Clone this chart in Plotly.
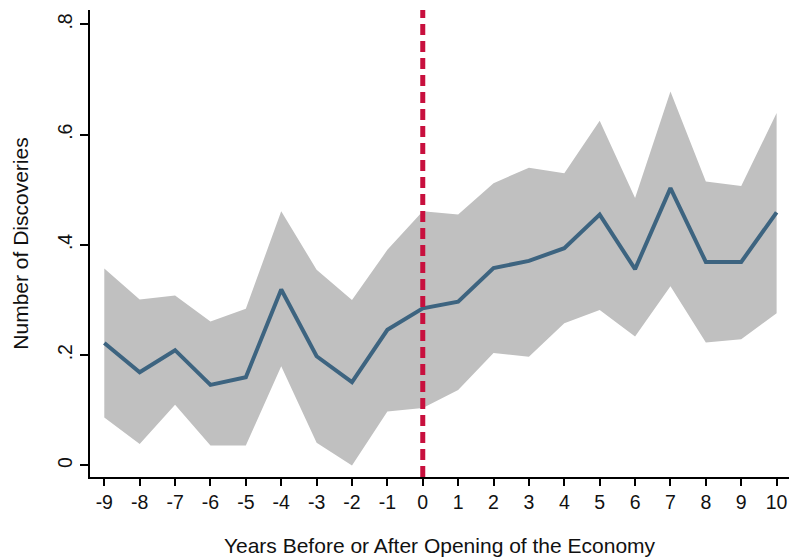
import plotly.graph_objects as go

years = [-9, -8, -7, -6, -5, -4, -3, -2, -1, 0, 1, 2, 3, 4, 5, 6, 7, 8, 9, 10]
year_labels = ["-9", "-8", "-7", "-6", "-5", "-4", "-3", "-2", "-1", "0",
               "1", "2", "3", "4", "5", "6", "7", "8", "9", "10"]
mean_disc = [0.222, 0.169, 0.209, 0.146, 0.160, 0.319, 0.198, 0.151, 0.246, 0.285,
             0.297, 0.358, 0.371, 0.394, 0.455, 0.356, 0.503, 0.369, 0.369, 0.459]
upper_ci = [0.357, 0.301, 0.308, 0.261, 0.284, 0.461, 0.355, 0.300, 0.391, 0.461,
            0.455, 0.512, 0.540, 0.530, 0.625, 0.485, 0.678, 0.515, 0.507, 0.639]
lower_ci = [0.087, 0.039, 0.110, 0.036, 0.036, 0.180, 0.041, 0.000, 0.098, 0.104,
            0.137, 0.204, 0.197, 0.258, 0.282, 0.234, 0.325, 0.223, 0.229, 0.276]
opening_year = 0
y_ticks = [0, 0.2, 0.4, 0.6, 0.8]
y_tick_labels = ["0", ".2", ".4", ".6", ".8"]

FONT = "Liberation Sans, Arial, sans-serif"

fig = go.Figure()
fig.add_trace(go.Scatter(x=years, y=upper_ci, mode="lines", line=dict(width=0, color="#c0c0c0"),
                         showlegend=False, hoverinfo="skip"))
fig.add_trace(go.Scatter(x=years, y=lower_ci, mode="lines", line=dict(width=0, color="#c0c0c0"),
                         fill="tonexty", fillcolor="#c0c0c0", showlegend=False, hoverinfo="skip"))
fig.add_trace(go.Scatter(x=years, y=mean_disc, mode="lines",
                         line=dict(width=4, color="#3d6480"), showlegend=False))
fig.add_vline(x=opening_year, line=dict(color="#c8103e", width=5, dash="11px,6px"), layer="above")

fig.update_layout(
    width=789, height=559,
    margin=dict(l=90, r=0, t=10, b=82),
    plot_bgcolor="white", paper_bgcolor="white",
    font=dict(family=FONT, size=19, color="#111111"),
    xaxis=dict(
        range=[-9.404, 10.35], tickvals=years, ticktext=year_labels, ticks="outside",
        ticklen=7, tickwidth=1.5,
        tickcolor="black", showline=True, linecolor="black", linewidth=1.5,
        showgrid=False, zeroline=False, tickfont=dict(size=19.5),
        title=dict(text="Years Before or After Opening of the Economy", font=dict(size=21), standoff=26),
    ),
    yaxis=dict(
        range=[-0.021, 0.826], tickvals=y_ticks, ticktext=y_tick_labels, tickangle=-90,
        ticks="outside", ticklen=8, tickwidth=1.5, tickcolor="black",
        showline=True, linecolor="black", linewidth=1.5, showgrid=False, zeroline=False,
        tickfont=dict(size=19.5),
        title=dict(text="Number of Discoveries", font=dict(size=21), standoff=20),
    ),
)

fig.write_html("out.html")
